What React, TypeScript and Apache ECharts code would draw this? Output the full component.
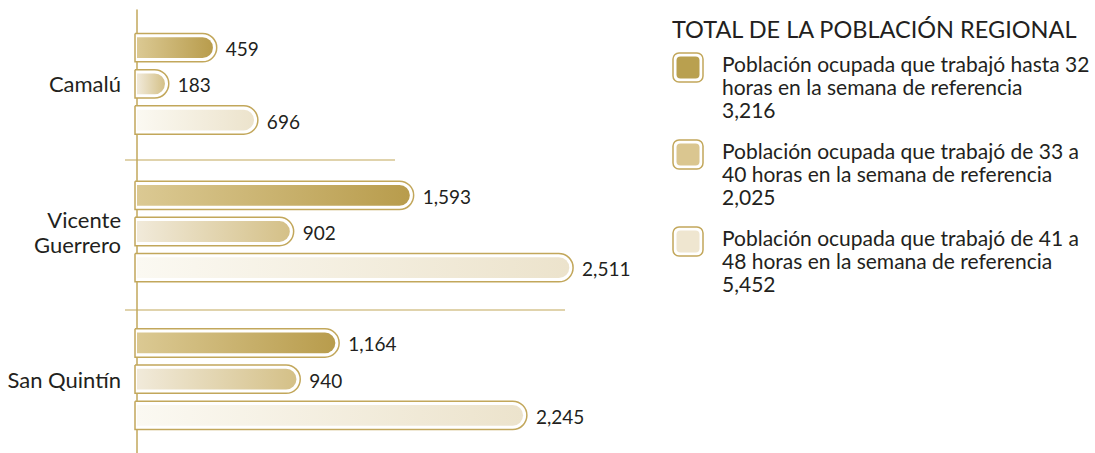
import React, { useEffect, useRef } from "react";
import * as echarts from "echarts";

const categories = ["Camalú", "Vicente\nGuerrero", "San Quintín"];
const upTo32 = [459, 1593, 1164];
const from33to40 = [183, 902, 940];
const from41to48 = [696, 2511, 2245];
const legendTitle = "TOTAL DE LA POBLACIÓN REGIONAL";
const legendLabels = [
  ["Población ocupada que trabajó hasta 32", "horas en la semana de referencia"],
  ["Población ocupada que trabajó de 33 a", "40 horas en la semana de referencia"],
  ["Población ocupada que trabajó de 41 a", "48 horas en la semana de referencia"],
];
const seriesValues = [upTo32, from33to40, from41to48];

const GOLD = "#c2a75b";
const TEXT = "#231f20";
const FONT = "Lato, 'Open Sans', sans-serif";
const gradStops = [
  ["#dbc993", "#b89c4c"],
  ["#f1eada", "#d4c087"],
  ["#fbf9f2", "#ece3cc"],
];
const swatchFill = ["#b9a04f", "#dac690", "#efe6d0"];

const fmt = (v: number) => v.toLocaleString("en-US");

export default function App() {
  const ref = useRef<HTMLDivElement>(null);
  useEffect(() => {
    if (!ref.current) return;
    const chart = echarts.init(ref.current, undefined, { renderer: "svg" });

    const renderBar = (si: number) => (params: any, api: any) => {
      const v = api.value(0);
      const c = api.value(1);
      const p0 = api.coord([0, c]);
      const p1 = api.coord([v, c]);
      const band = api.size([0, 1])[1];
      const cy = p0[1] + (si - 1) * band * 0.245;
      const H = band * 0.192;
      const inset = 3.8;
      const x0 = p0[0];
      const x1 = p1[0];
      const ih = H - 2 * inset;
      return {
        type: "group",
        children: [
          {
            type: "rect",
            shape: { x: x0 - 2, y: cy - H / 2, width: x1 - x0 + 2, height: H, r: [0, H / 2, H / 2, 0] },
            style: { fill: "#ffffff", stroke: GOLD, lineWidth: 1.5 },
          },
          {
            type: "rect",
            shape: { x: x0, y: cy - ih / 2, width: x1 - x0 - inset, height: ih, r: [0, ih / 2, ih / 2, 0] },
            style: {
              fill: new echarts.graphic.LinearGradient(0, 0, 1, 0, [
                { offset: 0, color: gradStops[si][0] },
                { offset: 1, color: gradStops[si][1] },
              ]),
            },
          },
          {
            type: "text",
            style: {
              text: fmt(v),
              x: x1 + 9,
              y: cy + 1,
              verticalAlign: "middle",
              align: "left",
              fill: TEXT,
              fontSize: 19,
              fontFamily: FONT,
            },
          },
        ],
      };
    };

    const totals = seriesValues.map((arr) => arr.reduce((a, b) => a + b, 0));
    const tops = [53, 140, 227];
    const legendGraphics: any[] = [
      {
        type: "text",
        style: {
          text: legendTitle,
          x: 672,
          y: 29,
          verticalAlign: "middle",
          fill: TEXT,
          fontSize: 23.5,
          fontFamily: FONT,
        },
      },
    ];
    tops.forEach((t, i) => {
      legendGraphics.push({
        type: "rect",
        shape: { x: 673, y: t, width: 30, height: 29, r: 6 },
        style: { fill: "#fff", stroke: GOLD, lineWidth: 1.5 },
      });
      legendGraphics.push({
        type: "rect",
        shape: { x: 676.5, y: t + 3.5, width: 23, height: 22, r: 4 },
        style: { fill: swatchFill[i] },
      });
      const lines = [...legendLabels[i], fmt(totals[i])];
      lines.forEach((ln, j) => {
        legendGraphics.push({
          type: "text",
          style: {
            text: ln,
            x: 722,
            y: t + 10 + j * 23,
            verticalAlign: "middle",
            fill: TEXT,
            fontSize: 21,
            fontFamily: FONT,
          },
        });
      });
    });

    chart.setOption({
      animation: false,
      grid: { left: 137, right: 437, top: 10, bottom: -10 },
      xAxis: { type: "value", min: 0, max: 3000, show: false },
      yAxis: {
        type: "category",
        data: categories,
        inverse: true,
        axisLine: { show: true, lineStyle: { color: GOLD, width: 1.5 } },
        axisTick: { show: false },
        splitLine: { show: false },
        axisLabel: { color: TEXT, fontSize: 22, fontFamily: FONT, margin: 16, lineHeight: 25, align: "right" },
      },
      series: seriesValues.map((vals, si) => ({
        type: "custom",
        name: legendLabels[si].join(" "),
        renderItem: renderBar(si),
        encode: { x: 0, y: 1 },
        clip: false,
        data: vals.map((v, i) => [v, i]),
      })),
      graphic: [
        { type: "line", shape: { x1: 125, y1: 160, x2: 395, y2: 160 }, style: { stroke: GOLD, lineWidth: 1.2 } },
        { type: "line", shape: { x1: 125, y1: 310, x2: 565, y2: 310 }, style: { stroke: GOLD, lineWidth: 1.2 } },
        ...legendGraphics,
      ],
    });
    return () => chart.dispose();
  }, []);
  return (
    <div
      ref={ref}
      style={{ position: "fixed", left: 0, top: 0, width: 1095, height: 453, background: "#fff" }}
    />
  );
}
